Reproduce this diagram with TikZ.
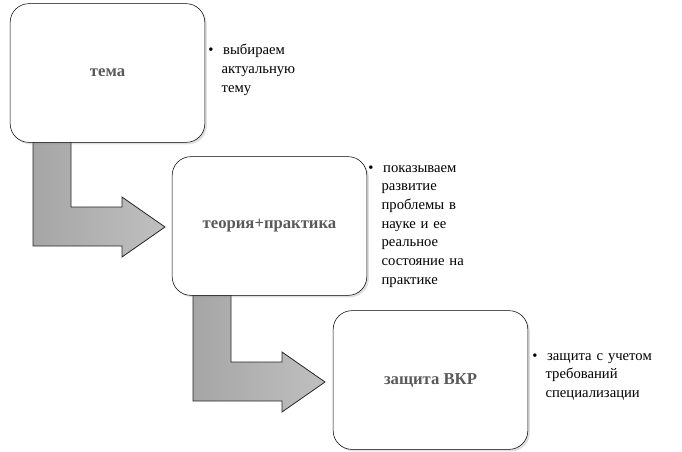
\documentclass[tikz,border=0pt]{standalone}
\usepackage{fontspec}
\setmainfont{Liberation Serif}
\usetikzlibrary{shadows}
\tikzset{
  stage/.style={draw=black, rounded corners=14pt, fill=white, minimum width=146pt, minimum height=104pt,
    font=\bfseries\fontsize{12.5}{14}\selectfont, text=black!65, drop shadow={opacity=0.25, shadow xshift=1.5pt, shadow yshift=-1.5pt}},
  note/.style={anchor=north west, align=left, text width=105pt, font=\fontsize{11}{14}\selectfont, inner sep=0pt},
  bentarrow/.style={draw=black!85, line width=0.6pt, left color=black!35, middle color=black!18, right color=black!25}
}
\begin{document}
\begin{tikzpicture}[x=0.75pt,y=-0.75pt]
\useasboundingbox (0,0) rectangle (682,451);
% bent arrows, drawn under the boxes
\foreach \dx/\dy in {0/0, 160/155}{
  \path[bentarrow, shift={(\dx,\dy)}] (33,140) -- (71,140) -- (71,207) -- (122,207) -- (122,197)
    -- (165,227) -- (122,257) -- (122,246) -- (33,246) -- cycle;
}
% stages
\node[stage] (tema) at (107.5,73) {тема};
\node[stage] (teoria) at (269.5,226) {теория+практика};
\node[stage] (zashchita) at (430.5,380) {защита ВКР};
% notes
\node[note] (n1) at (208,44) {\textbullet\ \ выбираем\\\hspace{10pt}актуальную\\\hspace{10pt}тему};
\node[note] (n2) at (368,165) {\textbullet\ \ показываем\\\hspace{10pt}развитие\\\hspace{10pt}проблемы в\\\hspace{10pt}науке и ее\\\hspace{10pt}реальное\\\hspace{10pt}состояние на\\\hspace{10pt}практике};
\node[note] (n3) at (532,353) {\textbullet\ \ защита с учетом\\\hspace{10pt}требований\\\hspace{10pt}специализации};
\end{tikzpicture}
\end{document}
